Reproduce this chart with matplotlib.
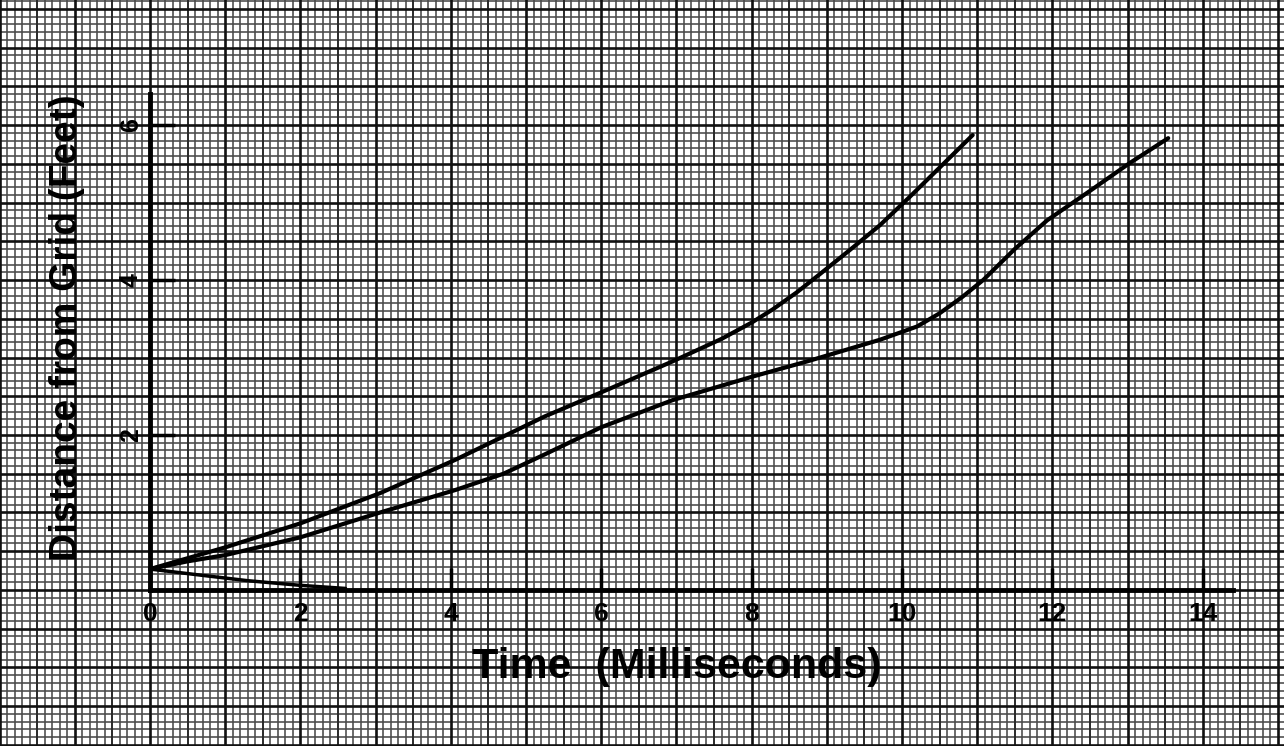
import numpy as np
import matplotlib
matplotlib.use("Agg")
import matplotlib.pyplot as plt

# curve readings (time in ms, distance in feet)
upper_t = [0.0, 0.5, 1.0, 2.0, 3.06, 4.06, 5.25, 6.0, 6.95, 7.6, 8.0, 8.28, 8.6, 8.9, 9.31, 9.71, 10.1, 10.5, 10.94]
upper_d = [0.27, 0.41, 0.55, 0.86, 1.25, 1.68, 2.24, 2.55, 2.95, 3.24, 3.45, 3.62, 3.84, 4.07, 4.39, 4.71, 5.07, 5.45, 5.87]

lower_t = [0.0, 0.5, 1.0, 2.0, 3.06, 4.06, 4.7, 5.25, 6.0, 6.95, 8.0, 8.74, 9.71, 10.2, 10.5, 10.8, 11.08, 11.5, 11.93, 12.5, 13.03, 13.54]
lower_d = [0.27, 0.37, 0.45, 0.68, 1.0, 1.29, 1.5, 1.75, 2.1, 2.45, 2.75, 2.95, 3.23, 3.4, 3.57, 3.78, 4.0, 4.4, 4.77, 5.15, 5.51, 5.83]

third_t = [0.0, 0.6, 1.3, 2.0, 2.6]
third_d = [0.27, 0.2, 0.12, 0.06, 0.02]

xticks = [0, 2, 4, 6, 8, 10, 12, 14]
yticks = [2, 4, 6]

font = ["Liberation Sans", "DejaVu Sans"]

fig = plt.figure(figsize=(12.84, 7.46), dpi=100)
ax = fig.add_axes([0, 0, 1, 1])
ax.set_xlim(-1.995, 15.08)
ax.set_ylim(-2.013, 7.613)

# graph paper
gx = np.round(np.arange(-20, 152) * 0.1, 1)
gy = np.round(np.arange(-21, 77) * 0.1, 1)
for v in gx:
    if abs(v - round(v)) < 1e-6:
        ax.axvline(v, color="#111111", lw=1.9, zorder=1)
    elif abs(v * 2 - round(v * 2)) < 1e-6:
        ax.axvline(v, color="#2a2a2a", lw=1.4, zorder=1)
    else:
        ax.axvline(v, color="#4a4a4a", lw=1.15, zorder=0.5)
for v in gy:
    if abs(v * 2 - round(v * 2)) < 1e-6:
        ax.axhline(v, color="#111111", lw=1.9, zorder=1)
    else:
        ax.axhline(v, color="#4a4a4a", lw=1.15, zorder=0.5)

ax.plot(upper_t, upper_d, color="black", lw=3, solid_capstyle="round",
        solid_joinstyle="round", zorder=4)
ax.plot(lower_t, lower_d, color="black", lw=3, solid_capstyle="round",
        solid_joinstyle="round", zorder=4)
ax.plot(third_t, third_d, color="black", lw=2.5, solid_capstyle="round", zorder=4)

# axes drawn through the origin
for side in ["top", "right"]:
    ax.spines[side].set_visible(False)
ax.spines["left"].set_position(("data", 0))
ax.spines["bottom"].set_position(("data", 0))
ax.spines["left"].set_bounds(0, 6.4)
ax.spines["bottom"].set_bounds(0, 14.4)
for side in ["left", "bottom"]:
    ax.spines[side].set_linewidth(3.5)
    ax.spines[side].set_zorder(3)

ax.set_xticks(xticks)
ax.set_xticklabels([str(t) for t in xticks], fontfamily=font, fontsize=19,
                   fontweight="bold")
ax.set_yticks(yticks)
ax.set_yticklabels([str(t) for t in yticks], fontfamily=font, fontsize=18,
                   fontweight="bold", rotation=90, va="center")
ax.tick_params(axis="x", direction="in", length=16, width=2.5, pad=9, zorder=3)
ax.tick_params(axis="y", direction="in", length=18, width=2.5, pad=5, zorder=3)

ax.text(7.0, -1.0, "Time  (Milliseconds)", fontsize=31, family=font,
        fontweight="bold", ha="center", va="center")
ax.text(-1.1, 3.38, "Distance from Grid (Feet)", fontsize=28, family=font,
        fontweight="bold", ha="center", va="center", rotation=90)

fig.savefig("out.png", dpi=100)
